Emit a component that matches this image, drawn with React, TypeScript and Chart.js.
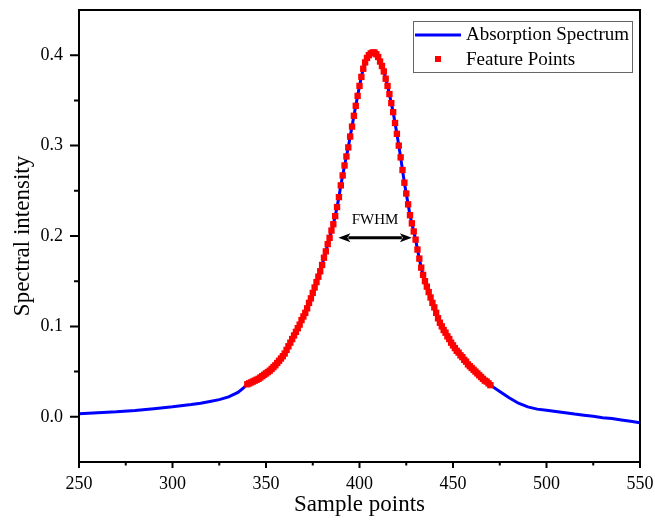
import React, { useEffect, useRef } from "react";
import { Chart, registerables } from "chart.js";

Chart.register(...registerables);

// ---- data ----
const leftTailX = [250, 260, 270, 280, 290, 300, 310, 315, 320, 325, 330, 335, 338];
const leftTailY = [0.0035, 0.0045, 0.0055, 0.007, 0.009, 0.011, 0.0135, 0.015, 0.017, 0.019, 0.022, 0.027, 0.032];

const featureStart = 340;
const featureY = [
  0.036, 0.037, 0.038, 0.039, 0.040, 0.041, 0.042, 0.0435, 0.045, 0.0465,
  0.048, 0.0495, 0.051, 0.053, 0.055, 0.057, 0.0595, 0.062, 0.0645, 0.067,
  0.070, 0.074, 0.078, 0.082, 0.086, 0.090, 0.094, 0.098, 0.102, 0.107,
  0.111, 0.115, 0.120, 0.126, 0.131, 0.137, 0.143, 0.149, 0.155, 0.161,
  0.168, 0.176, 0.183, 0.191, 0.198, 0.206, 0.213, 0.222, 0.232, 0.243,
  0.256, 0.267, 0.278, 0.288, 0.298, 0.310, 0.321, 0.333, 0.344, 0.355,
  0.366, 0.376, 0.385, 0.392, 0.397, 0.400, 0.402, 0.403, 0.403, 0.401,
  0.398, 0.393, 0.388, 0.382, 0.374, 0.366, 0.357, 0.347, 0.337, 0.325,
  0.313, 0.300, 0.287, 0.273, 0.259, 0.247, 0.235, 0.223, 0.214, 0.205,
  0.196, 0.185, 0.175, 0.165, 0.157, 0.150, 0.144, 0.138, 0.132, 0.126,
  0.121, 0.115, 0.109, 0.104, 0.100, 0.096, 0.093, 0.089, 0.086, 0.082,
  0.079, 0.076, 0.073, 0.071, 0.068, 0.066, 0.063, 0.061, 0.058, 0.056,
  0.054, 0.052, 0.050, 0.048, 0.046, 0.044, 0.042, 0.040, 0.039, 0.037,
  0.035,
];

const rightTailX = [475, 480, 485, 490, 495, 500, 505, 510, 515, 520, 525, 530, 535, 540, 545, 550];
const rightTailY = [0.028, 0.021, 0.015, 0.011, 0.0085, 0.0072, 0.0058, 0.0045, 0.003, 0.0018, 0.0005, -0.001, -0.002, -0.0035, -0.005, -0.0067];

const xMajorTicks = [250, 300, 350, 400, 450, 500, 550];
const xMinorTicks = [275, 325, 375, 425, 475, 525];
const yMajorTicks = [0.0, 0.1, 0.2, 0.3, 0.4];
const yMinorTicks = [0.05, 0.15, 0.25, 0.35];

const legendLabels = ["Absorption Spectrum", "Feature Points"];
const fwhmText = "FWHM";
const fwhmLeftX = 388.7;
const fwhmRightX = 428.0;
const fwhmY = 0.198;
const fwhmLabelX = 408.3;
const fwhmLabelY = 0.218;

const SERIF = "'Liberation Serif', 'Times New Roman', serif";

const featurePoints = featureY.map((y, i) => ({ x: featureStart + i, y }));
const spectrumPoints = [
  ...leftTailX.map((x, i) => ({ x, y: leftTailY[i] })),
  ...featurePoints,
  ...rightTailX.map((x, i) => ({ x, y: rightTailY[i] })),
];

const decorPlugin = {
  id: "decor",
  afterDatasetsDraw(chart: any) {
    const { ctx, scales } = chart;
    const xs = scales.x;
    const ys = scales.y;
    // FWHM arrow
    const x1 = xs.getPixelForValue(fwhmLeftX);
    const x2 = xs.getPixelForValue(fwhmRightX);
    const y = ys.getPixelForValue(fwhmY);
    const head = 12;
    const hh = 4.5;
    ctx.save();
    ctx.strokeStyle = "#000";
    ctx.fillStyle = "#000";
    ctx.lineWidth = 3;
    ctx.beginPath();
    ctx.moveTo(x1 + head - 2, y);
    ctx.lineTo(x2 - head + 2, y);
    ctx.stroke();
    ctx.beginPath();
    ctx.moveTo(x1, y);
    ctx.lineTo(x1 + head, y - hh);
    ctx.lineTo(x1 + head - 3, y);
    ctx.lineTo(x1 + head, y + hh);
    ctx.closePath();
    ctx.fill();
    ctx.beginPath();
    ctx.moveTo(x2, y);
    ctx.lineTo(x2 - head, y - hh);
    ctx.lineTo(x2 - head + 3, y);
    ctx.lineTo(x2 - head, y + hh);
    ctx.closePath();
    ctx.fill();
    ctx.font = `15px ${SERIF}`;
    ctx.textAlign = "center";
    ctx.textBaseline = "middle";
    ctx.fillText(fwhmText, xs.getPixelForValue(fwhmLabelX), ys.getPixelForValue(fwhmLabelY));
    ctx.restore();
  },
  afterDraw(chart: any) {
    const { ctx, chartArea, scales } = chart;
    const { left, right, top, bottom } = chartArea;
    const xs = scales.x;
    const ys = scales.y;
    ctx.save();
    ctx.strokeStyle = "#000";
    ctx.lineWidth = 2;
    ctx.lineCap = "square";
    ctx.beginPath();
    ctx.rect(left, top, right - left, bottom - top);
    ctx.stroke();
    ctx.lineCap = "butt";
    // ticks
    ctx.beginPath();
    xMajorTicks.forEach((v) => {
      const px = xs.getPixelForValue(v);
      ctx.moveTo(px, bottom);
      ctx.lineTo(px, bottom + 6);
    });
    xMinorTicks.forEach((v) => {
      const px = xs.getPixelForValue(v);
      ctx.moveTo(px, bottom);
      ctx.lineTo(px, bottom + 3.5);
    });
    yMajorTicks.forEach((v) => {
      const py = ys.getPixelForValue(v);
      ctx.moveTo(left, py);
      ctx.lineTo(left - 9, py);
    });
    yMinorTicks.forEach((v) => {
      const py = ys.getPixelForValue(v);
      ctx.moveTo(left, py);
      ctx.lineTo(left - 5, py);
    });
    ctx.stroke();

    // legend
    const bx = right - 227;
    const by = top + 11;
    const bw = 219;
    const bh = 51;
    ctx.strokeStyle = "#666";
    ctx.lineWidth = 1;
    ctx.strokeRect(bx + 0.5, by + 0.5, bw, bh);
    ctx.strokeStyle = "#0000ff";
    ctx.lineWidth = 3;
    ctx.beginPath();
    ctx.moveTo(bx + 2, by + 14);
    ctx.lineTo(bx + 48, by + 14);
    ctx.stroke();
    ctx.fillStyle = "#ff0000";
    ctx.fillRect(bx + 22, by + 35, 6, 6);
    ctx.fillStyle = "#000";
    ctx.font = `19px ${SERIF}`;
    ctx.textAlign = "left";
    ctx.textBaseline = "middle";
    ctx.fillText(legendLabels[0], bx + 53, by + 14);
    ctx.fillText(legendLabels[1], bx + 53, by + 39);
    ctx.restore();
  },
};

export default function App() {
  const ref = useRef<HTMLCanvasElement | null>(null);
  useEffect(() => {
    if (!ref.current) return;
    const chart = new Chart(ref.current, {
      type: "scatter",
      data: {
        datasets: [
          {
            label: legendLabels[0],
            data: spectrumPoints,
            showLine: true,
            borderColor: "#0000ff",
            backgroundColor: "#0000ff",
            borderWidth: 3,
            pointRadius: 0,
            tension: 0,
            order: 2,
          },
          {
            label: legendLabels[1],
            data: featurePoints,
            showLine: false,
            pointStyle: "rect",
            pointRadius: 4.5,
            borderWidth: 0,
            backgroundColor: "#ff0000",
            borderColor: "#ff0000",
            order: 1,
          },
        ],
      },
      options: {
        responsive: false,
        animation: false,
        devicePixelRatio: 1,
        layout: { padding: { top: 10, right: 15, left: 0, bottom: 0 } },
        plugins: {
          legend: { display: false },
          tooltip: { enabled: false },
        },
        scales: {
          x: {
            type: "linear",
            min: 250,
            max: 550,
            afterBuildTicks: (s: any) => {
              s.ticks = xMajorTicks.map((value) => ({ value }));
            },
            afterFit: (s: any) => {
              s.height = 58;
              s.paddingLeft = 0;
              s.paddingRight = 0;
              s.paddingTop = 0;
              s.paddingBottom = 0;
            },
            grid: { display: false, drawTicks: false },
            border: { display: false },
            ticks: {
              color: "#000",
              font: { family: SERIF, size: 18 },
              padding: 11,
              maxRotation: 0,
              callback: (v: any) => String(v),
            },
            title: {
              display: true,
              text: "Sample points",
              color: "#000",
              font: { family: SERIF, size: 23 },
              padding: { top: 0, bottom: 1 },
            },
          },
          y: {
            type: "linear",
            min: -0.05,
            max: 0.45,
            afterBuildTicks: (s: any) => {
              s.ticks = yMajorTicks.map((value) => ({ value }));
            },
            afterFit: (s: any) => {
              s.width = 79;
              s.paddingLeft = 0;
              s.paddingRight = 0;
              s.paddingTop = 0;
              s.paddingBottom = 0;
            },
            grid: { display: false, drawTicks: false },
            border: { display: false },
            ticks: {
              color: "#000",
              font: { family: SERIF, size: 18 },
              padding: 16,
              callback: (v: any) => Number(v).toFixed(1),
            },
            title: {
              display: true,
              text: "Spectral intensity",
              color: "#000",
              font: { family: SERIF, size: 23 },
              padding: { top: 9, bottom: 0 },
            },
          },
        },
      },
      plugins: [decorPlugin],
    });
    return () => chart.destroy();
  }, []);
  return (
    <div style={{ position: "absolute", left: 0, top: 0, width: 655, height: 520, background: "#fff" }}>
      <canvas ref={ref} width={655} height={520} />
    </div>
  );
}
